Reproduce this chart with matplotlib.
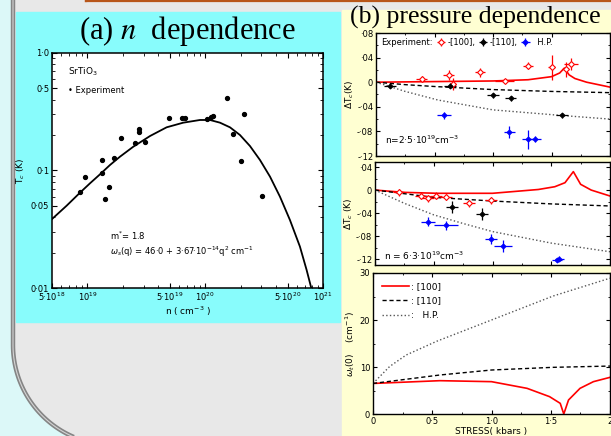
import matplotlib
matplotlib.use('Agg')
import matplotlib.pyplot as plt
import numpy as np
from matplotlib.patches import Rectangle, Polygon
from matplotlib.lines import Line2D
from matplotlib.ticker import FixedLocator, FixedFormatter, MultipleLocator, NullFormatter, LogLocator

######## (a) Tc of SrTiO3 against carrier density ########
n_exp = [8.65e18, 9.5e18, 1.32e19, 1.32e19, 1.41e19, 1.53e19, 1.69e19, 1.92e19, 2.53e19, 2.75e19,
         2.75e19, 3.08e19, 4.92e19, 6.3e19, 6.73e19, 1.03e20, 1.11e20, 1.17e20, 1.54e20, 1.71e20,
         2.0e20, 2.14e20, 3.05e20]
tc_exp = [0.066, 0.0875, 0.124, 0.0946, 0.0569, 0.072, 0.128, 0.188, 0.170, 0.224,
          0.211, 0.176, 0.278, 0.278, 0.278, 0.273, 0.287, 0.291, 0.417, 0.204,
          0.121, 0.303, 0.0607]

n_theory = [4.97e18, 6.66e18, 8.65e18, 1.051e19, 1.278e19, 1.554e19, 1.889e19, 2.452e19, 3.40e19,
            4.70e19, 6.51e19, 9.02e19, 1.097e20, 1.334e20, 1.622e20, 1.972e20, 2.398e20, 2.916e20,
            3.55e20, 4.31e20, 5.24e20, 6.37e20, 7.26e20, 8.0e20]
tc_theory = [0.0384, 0.0502, 0.0648, 0.0778, 0.0928, 0.1114, 0.1311, 0.1595, 0.1966,
             0.2331, 0.2553, 0.2691, 0.2691, 0.2553, 0.2331, 0.2005, 0.1616, 0.1229,
             0.0886, 0.0599, 0.0379, 0.0225, 0.01423, 0.00976]

n_ticks = [5e18, 1e19, 5e19, 1e20, 5e20, 1e21]
n_tick_labels = ['5·10$^{18}$', '10$^{19}$', '5·10$^{19}$', '10$^{20}$', '5·10$^{20}$', '10$^{21}$']
tc_ticks = [0.01, 0.05, 0.1, 0.5, 1.0]
tc_tick_labels = ['0·01', '0·05', '0·1', '0·5', '1·0']

######## (b) pressure dependence ########
# n = 2.5e19 cm^-3
s1_100 = [0.39, 0.62, 0.66, 0.89, 1.10, 1.30, 1.50, 1.62, 1.665]
dt1_100 = [0.005, 0.012, -0.003, 0.016, 0.002, 0.027, 0.024, 0.021, 0.030]
s1_100_err = [0.05, 0.05, 0.02, 0.04, 0.08, 0.04, 0.03, 0.03, 0.06]
dt1_100_err = [0.005, 0.008, 0.01, 0.007, 0.004, 0.006, 0.02, 0.012, 0.01]
s1_110 = [0.12, 0.63, 1.00, 1.15, 1.59]
dt1_110 = [-0.006, -0.006, -0.021, -0.026, -0.054]
s1_hp = [0.585, 1.14, 1.30, 1.356]
dt1_hp = [-0.054, -0.081, -0.093, -0.093]
s1_hp_err = [0.06, 0.05, 0.05, 0.05]
dt1_hp_err = [0.006, 0.01, 0.015, 0.005]

s_th1_100 = [0.0, 0.5, 1.0, 1.3, 1.5, 1.57, 1.61, 1.65, 1.7, 1.8, 1.9, 2.0]
dt_th1_100 = [0.0, 0.001, 0.002, 0.004, 0.009, 0.015, 0.023, 0.012, 0.006, 0.0, -0.004, -0.008]
s_th1_110 = [0.0, 0.25, 0.5, 1.0, 1.5, 2.0]
dt_th1_110 = [0.0, -0.004, -0.007, -0.012, -0.015, -0.017]
s_th1_hp = [0.0, 0.25, 0.53, 1.0, 1.58, 2.0]
dt_th1_hp = [0.0, -0.015, -0.029, -0.045, -0.054, -0.060]

# n = 6.3e19 cm^-3
s2_100 = [0.20, 0.39, 0.45, 0.52, 0.605, 0.80, 0.985]
dt2_100 = [-0.004, -0.010, -0.014, -0.010, -0.012, -0.023, -0.018]
s2_110 = [0.656, 0.91]
dt2_110 = [-0.029, -0.0415]
s2_hp = [0.45, 0.605, 0.99, 1.09, 1.55, 1.57]
dt2_hp = [-0.055, -0.061, -0.085, -0.097, -0.121, -0.119]
s2_hp_err = [0.06, 0.1, 0.05, 0.08, 0.04, 0.04]
dt2_hp_err = [0.008, 0.008, 0.008, 0.01, 0.004, 0.004]

s_th2_100 = [0.0, 0.25, 0.53, 1.0, 1.39, 1.53, 1.617, 1.688, 1.75, 1.84, 2.0]
dt_th2_100 = [0.0, -0.004, -0.0056, -0.0056, 0.001, 0.0058, 0.0128, 0.032, 0.010, 0.0, -0.0103]
s_th2_110 = [0.0, 0.5, 1.0, 1.5, 2.0]
dt_th2_110 = [0.0, -0.0126, -0.019, -0.024, -0.0276]
s_th2_hp = [0.0, 0.25, 0.5, 0.75, 1.0, 1.5, 2.0]
dt_th2_hp = [0.0, -0.023, -0.043, -0.058, -0.072, -0.092, -0.107]

# soft mode frequency omega_t(0)
s_w_100 = [0.0, 0.565, 1.0, 1.30, 1.49, 1.58, 1.61, 1.65, 1.747, 1.86, 2.0]
w_100 = [6.5, 7.09, 6.88, 5.46, 3.69, 2.27, 0.0, 2.98, 5.46, 6.88, 7.8]
s_w_110 = [0.0, 0.565, 1.0, 1.52, 2.0]
w_110 = [6.5, 8.3, 9.36, 9.93, 10.2]
s_w_hp = [0.0, 0.14, 0.28, 0.54, 1.0, 1.52, 2.0]
w_hp = [6.5, 10.1, 12.55, 15.5, 20.0, 25.1, 28.9]

W, H = 611, 436
fig = plt.figure(figsize=(W / 100, H / 100), dpi=100)
fig.patch.set_facecolor('#dcf8f8')

# slide background, drawn in pixel units (y down)
bg = fig.add_axes([0, 0, 1, 1])
bg.set_xlim(0, W)
bg.set_ylim(H, 0)
bg.axis('off')
R = 100
t = np.linspace(0, np.pi / 2, 50)
edge_x = np.concatenate([[13], 13 + R - R * np.cos(t), [W + 5]])
edge_y = np.concatenate([[-5], 345 + R * np.sin(t), [445]])
bg.add_patch(Polygon(np.column_stack([np.append(edge_x, W + 5), np.append(edge_y, -5)]),
                     closed=True, fc='#e8e8e8', ec='none', zorder=1))
bg.plot(edge_x, edge_y, color='#858585', lw=3.2, zorder=2, solid_capstyle='butt')
bg.plot(edge_x, edge_y, color='#d4d4d4', lw=0.8, zorder=2)
bg.plot([86, W], [1.2, 1.2], color='#b8561a', lw=1.6, zorder=2)
bg.plot([86, 86], [0, 1.2], color='#b8561a', lw=1.6, zorder=2)
bg.add_patch(Rectangle((16, 12), 324, 310, color='#88fcfc', zorder=3))
bg.add_patch(Rectangle((342, 10), W - 342, H - 10, color='#ffffd2', zorder=3))

def px(left, top, right, bottom):
    return [left / W, 1 - bottom / H, (right - left) / W, (bottom - top) / H]

TICK = 6

fig.text(187 / W, 1 - 31 / H, r'(a) $\mathit{n}$  dependence', family='Liberation Serif',
         math_fontfamily='stix', fontsize=22, ha='center', va='center')
fig.text(475 / W, 1 - 17 / H, '(b) pressure dependence', family='Liberation Serif',
         fontsize=18.5, ha='center', va='center')

######## (a) ########
ax = fig.add_axes(px(52, 53, 323, 288))
ax.set_xscale('log')
ax.set_yscale('log')
ax.plot(n_theory, tc_theory, color='black', lw=1.3)
ax.plot(n_exp, tc_exp, 'o', color='black', ms=2.8)
ax.set_xlim(5e18, 1e21)
ax.set_ylim(0.01, 1.0)
ax.xaxis.set_major_locator(FixedLocator(n_ticks))
ax.xaxis.set_major_formatter(FixedFormatter(n_tick_labels))
ax.yaxis.set_major_locator(FixedLocator(tc_ticks))
ax.yaxis.set_major_formatter(FixedFormatter(tc_tick_labels))
ax.xaxis.set_minor_locator(LogLocator(subs=np.arange(2, 10)))
ax.yaxis.set_minor_locator(LogLocator(subs=np.arange(2, 10)))
ax.xaxis.set_minor_formatter(NullFormatter())
ax.yaxis.set_minor_formatter(NullFormatter())
ax.tick_params(which='both', direction='in', top=True, right=True, labelsize=TICK, pad=2)
ax.tick_params(which='major', length=3.5)
ax.tick_params(which='minor', length=2)
ax.set_xlabel('n ( cm$^{-3}$ )', fontsize=6.5, labelpad=1)
ax.set_ylabel('T$_c$ (K)', fontsize=6.5, labelpad=3)
ax.text(0.06, 0.91, 'SrTiO$_3$', transform=ax.transAxes, fontsize=6.5)
ax.text(0.06, 0.83, '• Experiment', transform=ax.transAxes, fontsize=6)
ax.text(0.215, 0.205, 'm$^{*}$= 1.8', transform=ax.transAxes, fontsize=6)
ax.text(0.215, 0.14, r'$\omega_s$(q) = 46·0 + 3·67·10$^{-14}$q$^2$ cm$^{-1}$', transform=ax.transAxes, fontsize=6)
for s in ax.spines.values():
    s.set_linewidth(1.1)

######## (b) ########
def style_right(a, ymaj, ymin):
    a.set_xlim(0, 2)
    a.xaxis.set_major_locator(MultipleLocator(0.5))
    a.xaxis.set_minor_locator(MultipleLocator(0.25))
    a.yaxis.set_major_locator(MultipleLocator(ymaj))
    a.yaxis.set_minor_locator(MultipleLocator(ymin))
    a.tick_params(which='both', direction='in', top=True, right=True, labelsize=TICK, pad=2)
    a.tick_params(which='major', length=3)
    a.tick_params(which='minor', length=1.5)
    for s in a.spines.values():
        s.set_linewidth(1.0)

def dt_fmt(v, pos):
    if abs(v) < 1e-9:
        return '0'
    txt = '%.2f' % v
    return txt.replace('0.', '·')

def exp_points(a, s, d, xe, ye, color, filled):
    a.errorbar(s, d, xerr=xe, yerr=ye, fmt='D', ms=3 if not filled else 2.5,
               mfc=color if filled else 'white', mec=color, mew=0.8, ecolor=color,
               elinewidth=0.9, capsize=0, zorder=3)

# top: n = 2.5e19
a1 = fig.add_axes(px(376, 33, 610, 156))
a1.plot(s_th1_100, dt_th1_100, color='red', lw=1.2)
a1.plot(s_th1_110, dt_th1_110, color='black', ls=(0, (3, 2)), lw=1.0)
a1.plot(s_th1_hp, dt_th1_hp, color='#555555', ls=':', lw=1.0)
exp_points(a1, s1_100, dt1_100, s1_100_err, dt1_100_err, 'red', False)
exp_points(a1, s1_110, dt1_110, 0.05, 0.004, 'black', True)
exp_points(a1, s1_hp, dt1_hp, s1_hp_err, dt1_hp_err, 'blue', True)
a1.set_ylim(-0.12, 0.08)
style_right(a1, 0.04, 0.02)
a1.yaxis.set_major_formatter(plt.FuncFormatter(dt_fmt))
a1.set_xticklabels([])
a1.set_ylabel('ΔT$_c$(K)', fontsize=6.5, labelpad=1)
a1.text(0.04, 0.1, 'n=2·5·10$^{19}$cm$^{-3}$', transform=a1.transAxes, fontsize=6.5)
h_blank = Line2D([], [], color='none')
h_100 = a1.errorbar([], [], xerr=[], yerr=[], fmt='D', ms=3, mfc='white', mec='red', mew=0.8,
                    ecolor='red', elinewidth=0.9, capsize=0)
h_110 = a1.errorbar([], [], xerr=[], yerr=[], fmt='D', ms=2.5, mfc='black', mec='black',
                    ecolor='black', elinewidth=0.9, capsize=0)
h_hp = a1.errorbar([], [], xerr=[], yerr=[], fmt='D', ms=2.5, mfc='blue', mec='blue',
                   ecolor='blue', elinewidth=0.9, capsize=0)
a1.legend([h_blank, h_100, h_110, h_hp], ['Experiment:', '-[100],', '-[110],', '  H.P.'],
          loc='upper left', bbox_to_anchor=(-0.058, 1.02), ncol=4, frameon=False, fontsize=6,
          handlelength=1.3, handletextpad=0.1, columnspacing=0.3)

# middle: n = 6.3e19
a2 = fig.add_axes(px(375, 162, 610, 265))
a2.plot(s_th2_100, dt_th2_100, color='red', lw=1.2)
a2.plot(s_th2_110, dt_th2_110, color='black', ls=(0, (3, 2)), lw=1.0)
a2.plot(s_th2_hp, dt_th2_hp, color='#555555', ls=':', lw=1.0)
exp_points(a2, s2_100, dt2_100, 0.05, 0.006, 'red', False)
exp_points(a2, s2_110, dt2_110, 0.05, 0.01, 'black', True)
exp_points(a2, s2_hp, dt2_hp, s2_hp_err, dt2_hp_err, 'blue', True)
a2.set_ylim(-0.130, 0.0487)
style_right(a2, 0.04, 0.02)
a2.yaxis.set_major_formatter(plt.FuncFormatter(dt_fmt))
a2.set_xticklabels([])
a2.set_ylabel('ΔT$_c$ (K)', fontsize=6.5, labelpad=1)
a2.text(0.04, 0.05, 'n = 6·3·10$^{19}$cm$^{-3}$', transform=a2.transAxes, fontsize=6.5)

# bottom: soft mode
a3 = fig.add_axes(px(373, 273, 610, 414))
a3.plot(s_w_100, w_100, color='red', lw=1.2, label=': [100]')
a3.plot(s_w_110, w_110, color='black', ls=(0, (3, 2)), lw=1.0, label=': [110]')
a3.plot(s_w_hp, w_hp, color='#555555', ls=':', lw=1.0, label=':   H.P.')
a3.set_ylim(0, 30)
style_right(a3, 10, 5)
a3.xaxis.set_major_formatter(plt.FuncFormatter(lambda v, p: '0' if v == 0 else ('2' if v == 2 else ('%.1f' % v).replace('.', '·'))))
a3.set_xlabel('STRESS( kbars )', fontsize=6.5, labelpad=1)
a3.set_ylabel(r'$\omega_t$(0)    (cm$^{-1}$)', fontsize=6.5, labelpad=2)
a3.legend(loc='upper left', frameon=False, fontsize=6.5, handlelength=3, handletextpad=0.2,
          labelspacing=0.6, borderaxespad=0.6)

fig.savefig('out.png', dpi=100, facecolor=fig.get_facecolor())
